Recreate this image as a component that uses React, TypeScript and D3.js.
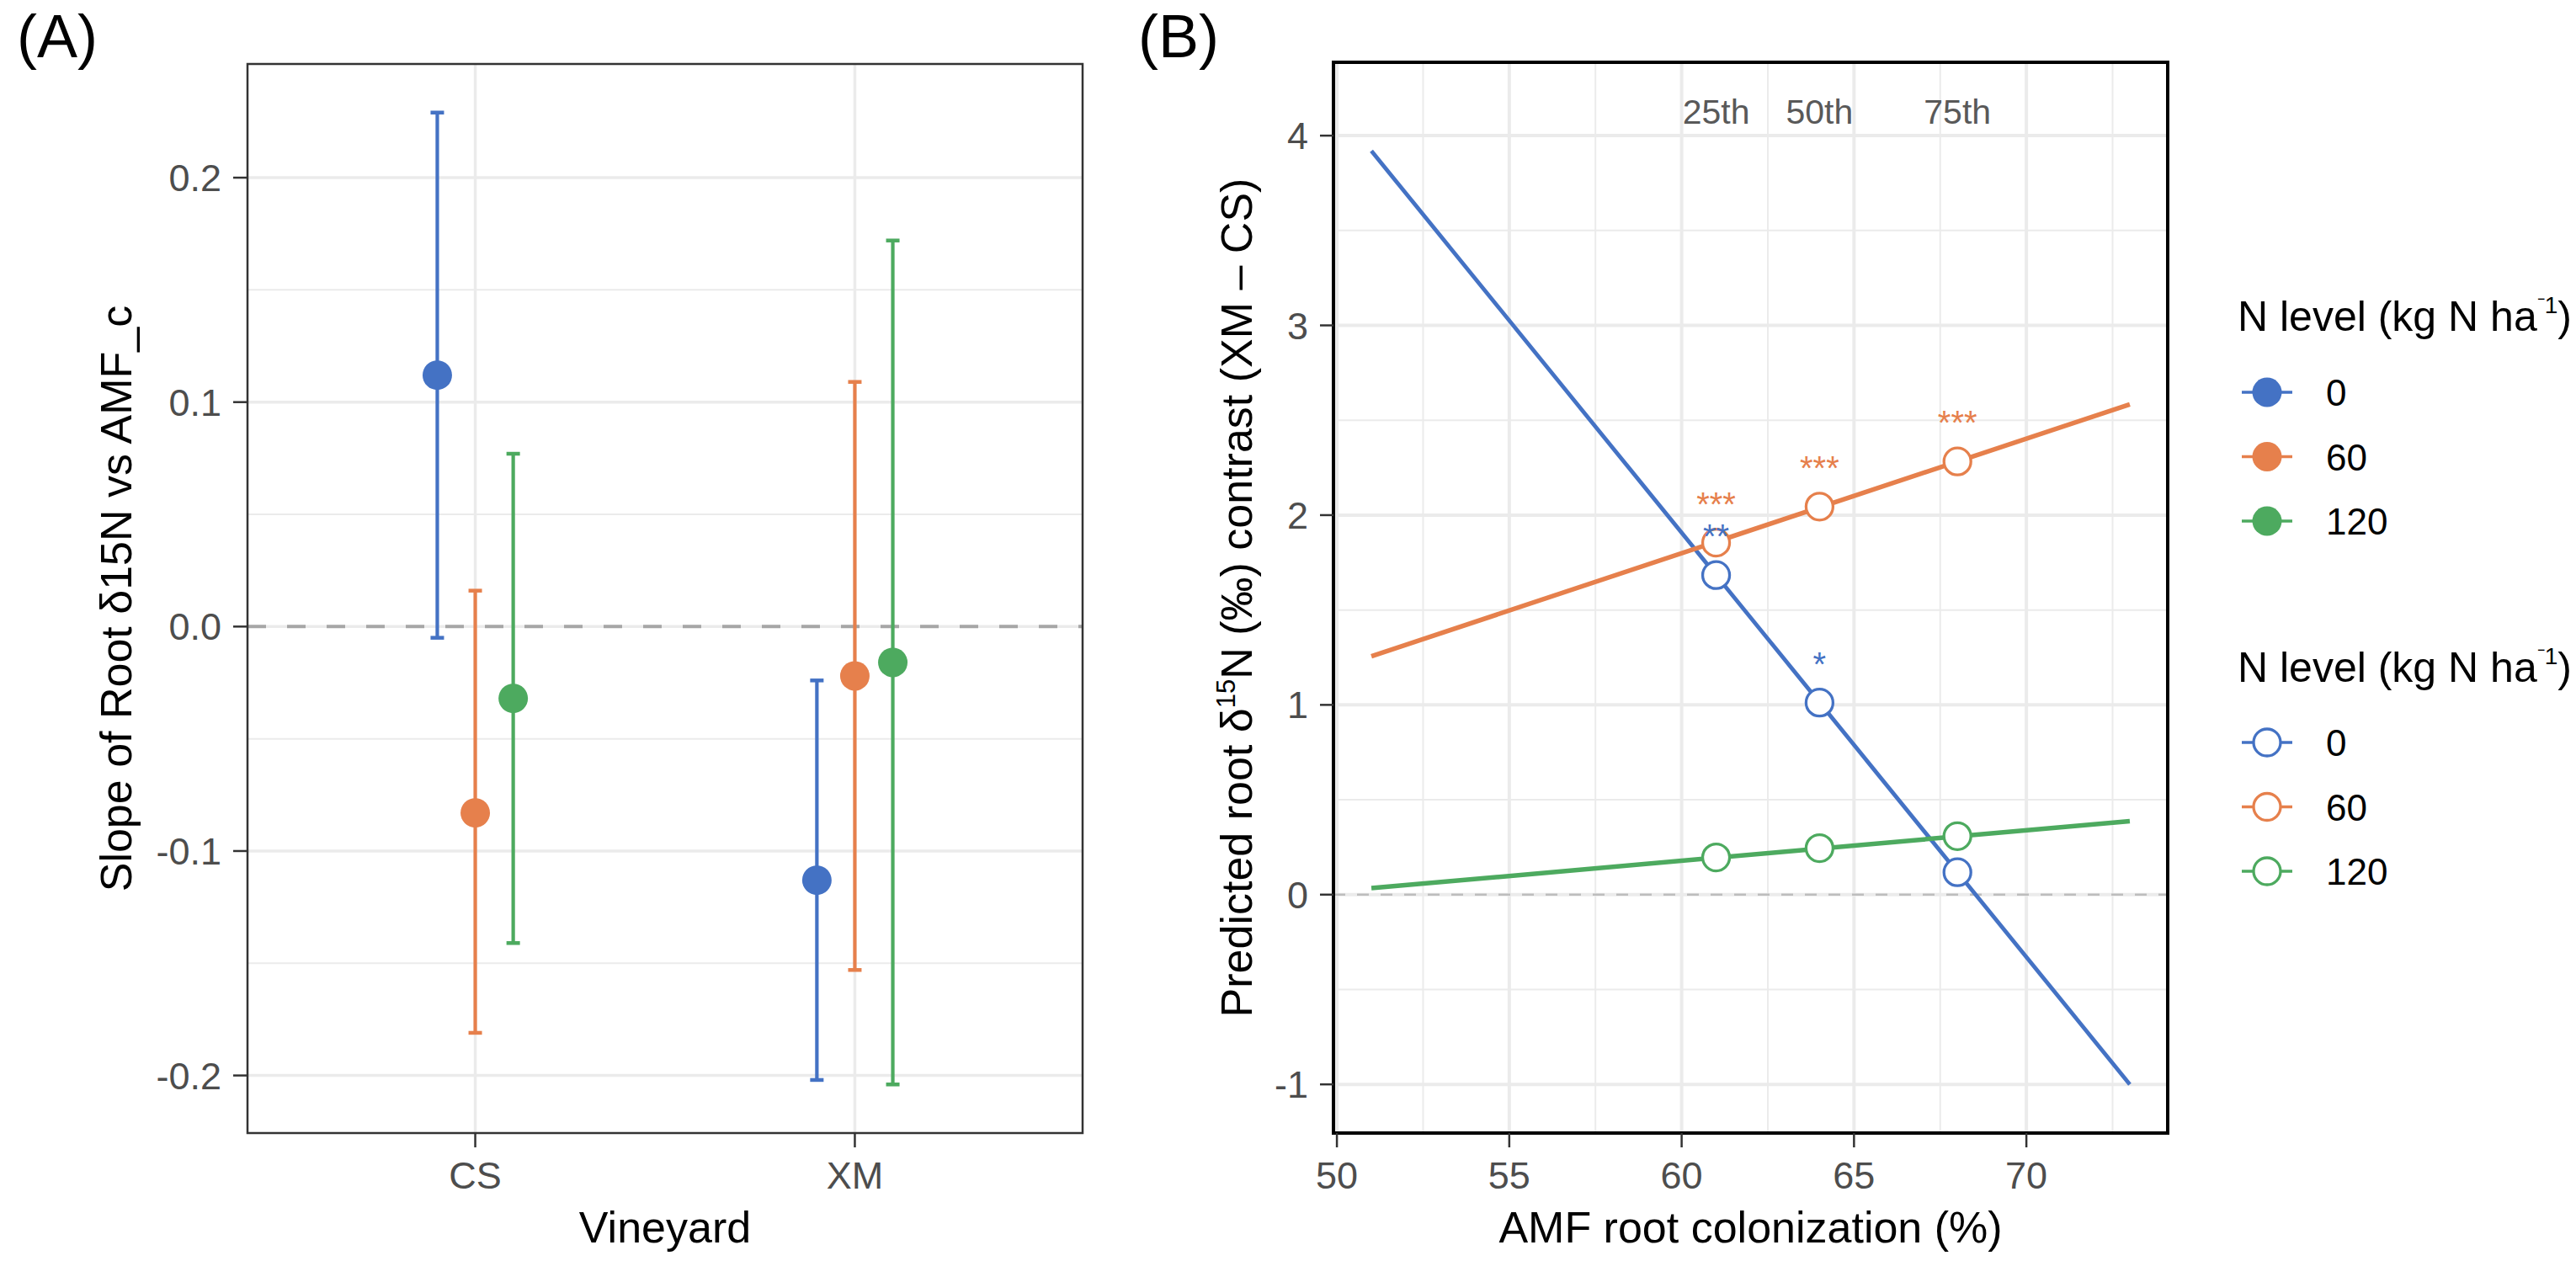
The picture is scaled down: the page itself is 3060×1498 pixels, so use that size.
import * as d3 from "d3";

// ---- data ----
const vineyards = ["CS", "XM"];
const nLevels = ["0", "60", "120"];
const nColors = ["#4472C4", "#E6804C", "#4DAA5F"];

// panel A: slope of root d15N vs AMF_c, estimate and CI per N level
const csSlope = [0.112, -0.083, -0.032];
const csLower = [-0.005, -0.181, -0.141];
const csUpper = [0.229, 0.016, 0.077];
const xmSlope = [-0.113, -0.022, -0.016];
const xmLower = [-0.202, -0.153, -0.204];
const xmUpper = [-0.024, 0.109, 0.172];

// panel B: predicted contrast lines (value at each end of AMF range)
const amfRange = [51, 73];
const lineStart = [3.92, 1.256, 0.034];
const lineEnd = [-1.0, 2.584, 0.387];
const amfPercentiles = [61, 64, 68];
const percentileLabels = ["25th", "50th", "75th"];
const percentileLabelY = 4.13;
const predBlue = [1.684, 1.012, 0.118];
const predOrange = [1.855, 2.045, 2.283];
const predGreen = [0.196, 0.245, 0.308];
const sigBlue = ["**", "*", ""];
const sigOrange = ["***", "***", "***"];
const sigGreen = ["", "", ""];

const W = 3060;
const H = 1498;
const font = '"Liberation Sans", Arial, Helvetica, sans-serif';
const boxA = { left: 294, top: 76, right: 1286, bottom: 1346 };
const boxB = { left: 1584, top: 74, right: 2575, bottom: 1346 };

const fmt = (v: number, d: number) => v.toFixed(d).replace("\u2212", "-");

export default function App() {
  // ---------- panel A ----------
  const xA = d3.scalePoint<string>().domain(vineyards).range([boxA.left, boxA.right]).padding(0.6);
  const dodge = xA.step() * 0.1;
  const allA = [...csLower, ...csUpper, ...xmLower, ...xmUpper];
  const [aMin, aMax] = d3.extent(allA) as [number, number];
  const padA = (aMax - aMin) * 0.05;
  const yA = d3.scaleLinear().domain([aMin - padA, aMax + padA]).range([boxA.bottom, boxA.top]);
  const majorA = yA.ticks(5);
  const minorA = d3.pairs(majorA).map(([a, b]) => (a + b) / 2);

  const rowsA = vineyards.flatMap((v, vi) =>
    nLevels.map((_, ni) => ({
      v,
      ni,
      est: (vi ? xmSlope : csSlope)[ni],
      lo: (vi ? xmLower : csLower)[ni],
      hi: (vi ? xmUpper : csUpper)[ni],
    }))
  );

  // ---------- panel B ----------
  const xPad = (amfRange[1] - amfRange[0]) * 0.05;
  const xB = d3.scaleLinear().domain([amfRange[0] - xPad, amfRange[1] + xPad]).range([boxB.left, boxB.right]);
  const allB = [...lineStart, ...lineEnd, percentileLabelY];
  const [bMin, bMax] = d3.extent(allB) as [number, number];
  const padB = (bMax - bMin) * 0.05;
  const yB = d3.scaleLinear().domain([bMin - padB, bMax + padB]).range([boxB.bottom, boxB.top]);
  const majorBx = xB.ticks(5);
  const minorBx = d3.pairs(majorBx).map(([a, b]) => (a + b) / 2).concat([majorBx[majorBx.length - 1] + 2.5]);
  const majorBy = yB.ticks(5);
  const minorBy = d3.pairs(majorBy).map(([a, b]) => (a + b) / 2);
  const predB = [predBlue, predOrange, predGreen];
  const sigB = [sigBlue, sigOrange, sigGreen];
  const lineGen = d3.line<[number, number]>().x((d) => xB(d[0])).y((d) => yB(d[1]));
  const lineWidths = [4.8, 5.5, 5.5];

  const legendTitle = (x: number, y: number) => (
    <text x={x} y={y} fontSize={50} fill="#000">
      <tspan>N level (kg N ha</tspan>
      <tspan fontSize={28} dy={-21}>⁻1</tspan>
      <tspan dy={21}>)</tspan>
    </text>
  );

  return (
    <svg width={W} height={H} viewBox={`0 0 ${W} ${H}`} style={{ position: "absolute", left: 0, top: 0, background: "#fff" }} fontFamily={font}>
      <rect width={W} height={H} fill="#fff" />

      {/* ===== panel A ===== */}
      <text x={20} y={68} fontSize={72}>(A)</text>
      <g>
        {minorA.map((t) => (
          <line key={"mn" + t} x1={boxA.left} x2={boxA.right} y1={yA(t)} y2={yA(t)} stroke="#ebebeb" strokeWidth={2} />
        ))}
        {majorA.map((t) => (
          <line key={"mj" + t} x1={boxA.left} x2={boxA.right} y1={yA(t)} y2={yA(t)} stroke="#ebebeb" strokeWidth={3.5} />
        ))}
        {vineyards.map((v) => (
          <line key={"vg" + v} x1={xA(v)} x2={xA(v)} y1={boxA.top} y2={boxA.bottom} stroke="#ebebeb" strokeWidth={3.5} />
        ))}
        <line x1={boxA.left} x2={boxA.right} y1={yA(0)} y2={yA(0)} stroke="#a6a6a6" strokeWidth={4} strokeDasharray="22 25" />
        {rowsA.map((r) => {
          const cx = (xA(r.v) as number) + (r.ni - 1) * dodge;
          return (
            <g key={r.v + r.ni} stroke={nColors[r.ni]}>
              <line x1={cx} x2={cx} y1={yA(r.lo)} y2={yA(r.hi)} strokeWidth={4.2} />
              <line x1={cx - 8} x2={cx + 8} y1={yA(r.lo)} y2={yA(r.lo)} strokeWidth={4.5} />
              <line x1={cx - 8} x2={cx + 8} y1={yA(r.hi)} y2={yA(r.hi)} strokeWidth={4.5} />
              <circle cx={cx} cy={yA(r.est)} r={17.5} fill={nColors[r.ni]} stroke="none" />
            </g>
          );
        })}
        <rect x={boxA.left} y={boxA.top} width={boxA.right - boxA.left} height={boxA.bottom - boxA.top} fill="none" stroke="#333" strokeWidth={2.5} />
        {majorA.map((t) => (
          <g key={"ta" + t}>
            <line x1={boxA.left - 17} x2={boxA.left} y1={yA(t)} y2={yA(t)} stroke="#333" strokeWidth={2.5} />
            <text x={263} y={yA(t) + 16} fontSize={45} fill="#4d4d4d" textAnchor="end">{fmt(t, 1)}</text>
          </g>
        ))}
        {vineyards.map((v) => (
          <g key={"tx" + v}>
            <line x1={xA(v)} x2={xA(v)} y1={boxA.bottom} y2={boxA.bottom + 17} stroke="#333" strokeWidth={2.5} />
            <text x={xA(v)} y={1412} fontSize={45} fill="#4d4d4d" textAnchor="middle">{v}</text>
          </g>
        ))}
        <text x={(boxA.left + boxA.right) / 2} y={1476} fontSize={52} textAnchor="middle">Vineyard</text>
        <text transform={`translate(156, ${(boxA.top + boxA.bottom) / 2}) rotate(-90)`} fontSize={52} textAnchor="middle">
          Slope of Root δ15N vs AMF_c
        </text>
      </g>

      {/* ===== panel B ===== */}
      <text x={1352} y={68} fontSize={72}>(B)</text>
      <g>
        {minorBy.map((t) => (
          <line key={"bmy" + t} x1={boxB.left} x2={boxB.right} y1={yB(t)} y2={yB(t)} stroke="#ebebeb" strokeWidth={2} />
        ))}
        {minorBx.map((t) => (
          <line key={"bmx" + t} x1={xB(t)} x2={xB(t)} y1={boxB.top} y2={boxB.bottom} stroke="#ebebeb" strokeWidth={2} />
        ))}
        {majorBy.map((t) => (
          <line key={"bjy" + t} x1={boxB.left} x2={boxB.right} y1={yB(t)} y2={yB(t)} stroke="#ebebeb" strokeWidth={4} />
        ))}
        {majorBx.map((t) => (
          <line key={"bjx" + t} x1={xB(t)} x2={xB(t)} y1={boxB.top} y2={boxB.bottom} stroke="#ebebeb" strokeWidth={4} />
        ))}
        <line x1={boxB.left} x2={boxB.right} y1={yB(0)} y2={yB(0)} stroke="#bdbdbd" strokeWidth={2.5} strokeDasharray="14 14" />
        {nLevels.map((n, i) => (
          <path
            key={"ln" + n}
            d={lineGen([[amfRange[0], lineStart[i]], [amfRange[1], lineEnd[i]]]) || ""}
            stroke={nColors[i]}
            strokeWidth={lineWidths[i]}
            fill="none"
          />
        ))}
        {nLevels.map((n, i) =>
          amfPercentiles.map((p, j) => (
            <circle key={"pt" + n + p} cx={xB(p)} cy={yB(predB[i][j])} r={16} fill="#fff" stroke={nColors[i]} strokeWidth={3.3} />
          ))
        )}
        {nLevels.map((n, i) =>
          amfPercentiles.map((p, j) =>
            sigB[i][j] ? (
              <text key={"sg" + n + p} x={xB(p)} y={yB(predB[i][j]) - 55 + 23} fontSize={40} fill={nColors[i]} textAnchor="middle">
                {sigB[i][j]}
              </text>
            ) : null
          )
        )}
        {amfPercentiles.map((p, j) => (
          <text key={"pc" + p} x={xB(p)} y={yB(percentileLabelY) + 15} fontSize={41} fill="#595959" textAnchor="middle">
            {percentileLabels[j]}
          </text>
        ))}
        <rect x={boxB.left} y={boxB.top} width={boxB.right - boxB.left} height={boxB.bottom - boxB.top} fill="none" stroke="#000" strokeWidth={4} />
        {majorBy.map((t) => (
          <g key={"tby" + t}>
            <line x1={boxB.left - 16} x2={boxB.left} y1={yB(t)} y2={yB(t)} stroke="#333" strokeWidth={2.5} />
            <text x={1554} y={yB(t) + 16} fontSize={45} fill="#4d4d4d" textAnchor="end">{fmt(t, 0)}</text>
          </g>
        ))}
        {majorBx.map((t) => (
          <g key={"tbx" + t}>
            <line x1={xB(t)} x2={xB(t)} y1={boxB.bottom} y2={boxB.bottom + 17} stroke="#333" strokeWidth={2.5} />
            <text x={xB(t)} y={1412} fontSize={45} fill="#4d4d4d" textAnchor="middle">{fmt(t, 0)}</text>
          </g>
        ))}
        <text x={(boxB.left + boxB.right) / 2} y={1476} fontSize={52} textAnchor="middle">AMF root colonization (%)</text>
        <text transform={`translate(1487, ${(boxB.top + boxB.bottom) / 2}) rotate(-90)`} fontSize={52} textAnchor="middle">
          <tspan>Predicted root δ</tspan>
          <tspan fontSize={31} dy={-20}>15</tspan>
          <tspan dy={20}>N (‰) contrast (XM – CS)</tspan>
        </text>
      </g>

      {/* ===== legends ===== */}
      {legendTitle(2658, 393)}
      {nLevels.map((n, i) => {
        const cy = 466 + i * 76.5;
        return (
          <g key={"lg1" + n}>
            <line x1={2663} x2={2723} y1={cy} y2={cy} stroke={nColors[i]} strokeWidth={3.5} />
            <circle cx={2693} cy={cy} r={17.5} fill={nColors[i]} />
            <text x={2763} y={cy + 16} fontSize={44}>{n}</text>
          </g>
        );
      })}
      {legendTitle(2658, 810)}
      {nLevels.map((n, i) => {
        const cy = 882 + i * 76.5;
        return (
          <g key={"lg2" + n}>
            <line x1={2663} x2={2723} y1={cy} y2={cy} stroke={nColors[i]} strokeWidth={3.5} />
            <circle cx={2693} cy={cy} r={16} fill="#fff" stroke={nColors[i]} strokeWidth={3.3} />
            <text x={2763} y={cy + 16} fontSize={44}>{n}</text>
          </g>
        );
      })}
    </svg>
  );
}
